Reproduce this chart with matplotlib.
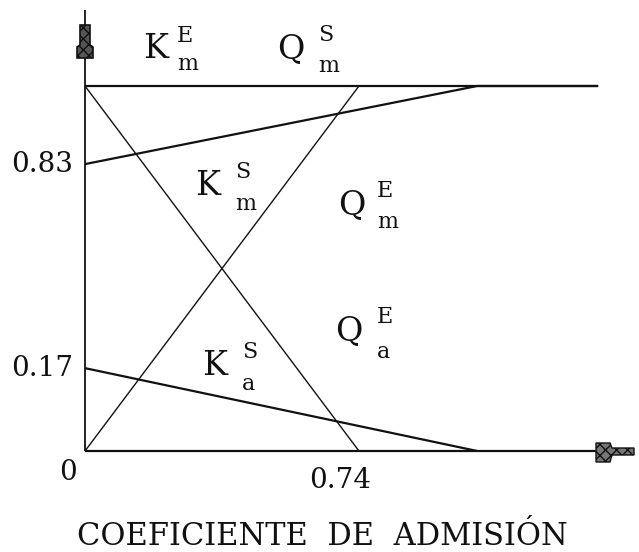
import matplotlib
matplotlib.use("Agg")
import matplotlib.pyplot as plt
from matplotlib.patches import Polygon

# ---------------- data ----------------
# diagonal lines (K lines): meet 0 / 1 at this admission coefficient
k_x = [0.0, 0.795]
k_desc_y = [1.0, 0.0]
k_asc_y = [0.0, 1.0]
# upper line starting at the "0.83" level, merges into the top line
upper_x = [0.0, 1.138, 1.486]
upper_y = [0.786, 1.0, 1.0]
# lower line starting at the "0.17" level, merges into the x axis
lower_x = [0.0, 1.138]
lower_y = [0.227, 0.0]
# top line
top_x = [0.0, 1.486]
top_y = [1.0, 1.0]

ytick_pos = [0.786, 0.227]
ytick_labels = ["0.83", "0.17"]
xtick_pos = [0.0, 0.74]
xtick_labels = ["0", "0.74"]

region_labels = [  # (main letter, superscript, subscript)
    ("K", "E", "m"),
    ("Q", "S", "m"),
    ("K", "S", "m"),
    ("Q", "E", "m"),
    ("K", "S", "a"),
    ("Q", "E", "a"),
]
xlabel = "COEFICIENTE  DE  ADMISIÓN"

# ---------------- figure ----------------
W, H = 639, 552
fig = plt.figure(figsize=(W / 100, H / 100), dpi=100)
fig.patch.set_facecolor("white")

x0px, y0px = 85, 451          # origin in pixels
kx = 344.6                    # px per x unit
ky = 365.0                    # px per y unit
xmax = (633 - x0px) / kx
ymax = (y0px - 10) / ky
ax = fig.add_axes([x0px / W, 1 - y0px / H, (633 - x0px) / W, (y0px - 10) / H])
ax.set_xlim(0, xmax)
ax.set_ylim(0, ymax)
ax.axis("off")

FONT = "DejaVu Serif"
ink = "#111111"

# axes lines
ax.plot([0, xmax], [0, 0], color=ink, lw=1.6, solid_capstyle="butt", clip_on=False)
ax.plot([0, 0], [0, ymax], color=ink, lw=1.3, solid_capstyle="butt", clip_on=False)

# chart lines
ax.plot(top_x, top_y, color=ink, lw=1.6)
ax.plot(upper_x, upper_y, color=ink, lw=1.6)
ax.plot(lower_x, lower_y, color=ink, lw=1.6)
ax.plot(k_x, k_desc_y, color=ink, lw=1.0)
ax.plot(k_x, k_asc_y, color=ink, lw=1.0)


def fx(px):
    return px / W


def fy(py):
    return 1 - py / H


# axis "arrow" glyphs
yarrow = [(80, 25), (90, 25), (90, 45), (93, 47), (93, 58), (77, 58), (77, 47), (80, 45)]
fig.patches.append(Polygon([(fx(a), fy(b)) for a, b in yarrow], closed=True,
                           transform=fig.transFigure, facecolor="#555555",
                           edgecolor=ink, lw=1.2, hatch="xxx"))
xarrow = [(596, 443), (610, 443), (612, 448), (634, 448), (634, 455), (612, 455),
          (610, 462), (596, 462)]
fig.patches.append(Polygon([(fx(a), fy(b)) for a, b in xarrow], closed=True,
                           transform=fig.transFigure, facecolor="#777777",
                           edgecolor=ink, lw=1.0, hatch="xxx"))

# tick labels
tick_fs = 20
for pos, lab in zip(ytick_pos, ytick_labels):
    fig.text(fx(73), fy(y0px - pos * ky), lab, ha="right", va="center",
             fontsize=tick_fs, family=FONT, color=ink)
fig.text(fx(68), fy(480), xtick_labels[0], ha="center", va="baseline",
         fontsize=tick_fs, family=FONT, color=ink)
fig.text(fx(x0px + xtick_pos[1] * kx), fy(488), xtick_labels[1], ha="center",
         va="baseline", fontsize=tick_fs, family=FONT, color=ink)

# region labels: (main left, main baseline, script left, sup baseline, sub baseline)
label_pos = [
    (143, 58, 177, 42, 70),
    (277, 58, 318, 41, 72),
    (195, 195, 235, 178, 210),
    (338, 214, 377, 197, 228),
    (202, 375, 242, 358, 390),
    (335, 340, 377, 323, 358),
]
for (main, sup, sub), (mx, mb, sx, supb, subb) in zip(region_labels, label_pos):
    fig.text(fx(mx), fy(mb), main, ha="left", va="baseline", fontsize=24,
             family=FONT, color=ink)
    fig.text(fx(sx), fy(supb), sup, ha="left", va="baseline", fontsize=16,
             family=FONT, color=ink)
    fig.text(fx(sx), fy(subb), sub, ha="left", va="baseline", fontsize=16,
             family=FONT, color=ink)

# x label
fig.text(fx(322), fy(545), xlabel, ha="center", va="baseline", fontsize=22,
         family=FONT, color=ink)

fig.savefig("out.png", dpi=100, facecolor="white")
